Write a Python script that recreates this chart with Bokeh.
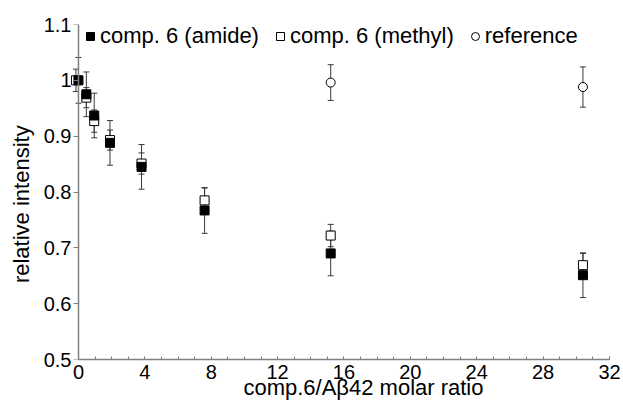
from bokeh.plotting import figure
from bokeh.models import (Range1d, FixedTicker, ColumnDataSource, Whisker, TeeHead,
                          Legend, LegendItem, LinearAxis)
from bokeh.embed import file_html
from bokeh.resources import INLINE

# ---- data ----
ratio = [0, 0.475, 0.95, 1.9, 3.8, 7.6, 15.2, 30.4]
amide = [1.0, 0.975, 0.937, 0.888, 0.845, 0.767, 0.690, 0.651]
amide_err = [0.041, 0.040, 0.040, 0.040, 0.040, 0.041, 0.040, 0.040]

methyl_ratio = [-0.15, 0.475, 0.95, 1.9, 3.8, 7.6, 15.2, 30.4]
methyl = [1.0, 0.969, 0.927, 0.893, 0.851, 0.785, 0.722, 0.669]
methyl_err = [0.020, 0.018, 0.020, 0.018, 0.019, 0.022, 0.020, 0.021]

ref_ratio = [15.2, 30.4]
reference = [0.996, 0.988]
ref_err = [0.032, 0.036]

x_ticks = [0, 4, 8, 12, 16, 20, 24, 28, 32]
x_minor = list(range(0, 33))
y_ticks = [0.5, 0.6, 0.7, 0.8, 0.9, 1.0, 1.1]
y_tick_labels = ["0.5", "0.6", "0.7", "0.8", "0.9", "1", "1.1"]

legend_labels = ["comp. 6 (amide)", "comp. 6 (methyl)", "reference"]
x_title = "comp.6/A\u03b242 molar ratio"
y_title = "relative intensity"

FONT = "Liberation Sans"
AXIS_COLOR = "#808080"
ERR_COLOR = "#3a3a3a"
NBSP = "\u00a0"

p = figure(width=623, height=406, output_backend="svg", toolbar_location=None,
           x_range=Range1d(-0.6, 32), y_range=Range1d(0.5, 1.1),
           x_axis_location=None, y_axis_location=None)
p.min_border = 0
p.min_border_left = 68
p.min_border_right = 14
p.min_border_top = 24
p.min_border_bottom = 47
p.outline_line_color = None
p.grid.visible = False
p.background_fill_color = "white"
p.border_fill_color = "white"

# x axis
xa = LinearAxis(ticker=FixedTicker(ticks=x_ticks, minor_ticks=x_minor), bounds=(0, 32))
xa.axis_line_color = AXIS_COLOR
xa.axis_line_width = 1.5
xa.major_tick_line_color = AXIS_COLOR
xa.minor_tick_line_color = AXIS_COLOR
xa.major_tick_in = 3
xa.major_tick_out = 0
xa.minor_tick_in = 3
xa.minor_tick_out = 0
xa.major_label_standoff = 5
xa.major_label_text_font = FONT
xa.major_label_text_font_size = "20px"
xa.major_label_text_color = "black"
xa.axis_label = NBSP * 8 + x_title
xa.axis_label_text_font = FONT
xa.axis_label_text_font_size = "22px"
xa.axis_label_text_font_style = "normal"
xa.axis_label_text_color = "black"
xa.axis_label_standoff = -7
p.add_layout(xa, "below")

# y axis: labels (at frame edge)
ya = LinearAxis(ticker=FixedTicker(ticks=y_ticks))
ya.major_label_overrides = {t: l for t, l in zip(y_ticks, y_tick_labels)}
ya.axis_line_color = None
ya.major_tick_line_color = None
ya.minor_tick_line_color = None
ya.major_tick_in = 0
ya.major_tick_out = 0
ya.minor_tick_in = 0
ya.minor_tick_out = 0
ya.major_label_standoff = -3
ya.major_label_text_font = FONT
ya.major_label_text_font_size = "20px"
ya.major_label_text_color = "black"
ya.axis_label = y_title + NBSP * 4
ya.axis_label_text_font = FONT
ya.axis_label_text_font_size = "22px"
ya.axis_label_text_font_style = "normal"
ya.axis_label_text_color = "black"
ya.axis_label_standoff = 7
p.add_layout(ya, "left")

# y axis: line and ticks at x = 0
ya2 = LinearAxis(ticker=FixedTicker(ticks=y_ticks), fixed_location=0)
ya2.axis_line_color = AXIS_COLOR
ya2.axis_line_width = 1.5
ya2.major_tick_line_color = AXIS_COLOR
ya2.major_tick_in = 0
ya2.major_tick_out = 5
ya2.minor_tick_line_color = None
ya2.minor_tick_in = 0
ya2.minor_tick_out = 0
ya2.major_label_text_color = None
ya2.major_label_text_font_size = "1px"
ya2.major_label_standoff = 0
p.add_layout(ya2, "left")

# error bars
def add_err(xs, ys, es):
    src = ColumnDataSource(dict(base=xs, upper=[y + e for y, e in zip(ys, es)],
                                lower=[y - e for y, e in zip(ys, es)]))
    w = Whisker(source=src, base="base", upper="upper", lower="lower", dimension="height",
                line_color=ERR_COLOR, line_width=1,
                upper_head=TeeHead(size=6, line_color=ERR_COLOR, line_width=1),
                lower_head=TeeHead(size=6, line_color=ERR_COLOR, line_width=1),
                level="underlay")
    p.add_layout(w)

add_err(ref_ratio, reference, ref_err)
add_err(methyl_ratio, methyl, methyl_err)
add_err(ratio, amide, amide_err)

r_ref = p.scatter(ref_ratio, reference, marker="circle", size=9,
                  fill_color="white", line_color="black", line_width=1)
r_met = p.scatter(methyl_ratio, methyl, marker="square", size=9,
                  fill_color="white", line_color="black", line_width=1)
r_am = p.scatter(ratio, amide, marker="square", size=9,
                 fill_color="black", line_color="black", line_width=1)

legend = Legend(items=[LegendItem(label=legend_labels[0], renderers=[r_am]),
                       LegendItem(label=legend_labels[1], renderers=[r_met]),
                       LegendItem(label=legend_labels[2], renderers=[r_ref])],
                orientation="horizontal", location=(12, 310))
legend.background_fill_alpha = 0
legend.border_line_color = None
legend.padding = 0
legend.margin = 0
legend.spacing = 11
legend.glyph_width = 20
legend.glyph_height = 20
legend.label_standoff = 0
legend.label_text_font = FONT
legend.label_text_font_size = "22px"
legend.label_text_color = "black"
p.add_layout(legend)

open("out.html", "w").write(file_html(p, INLINE))
